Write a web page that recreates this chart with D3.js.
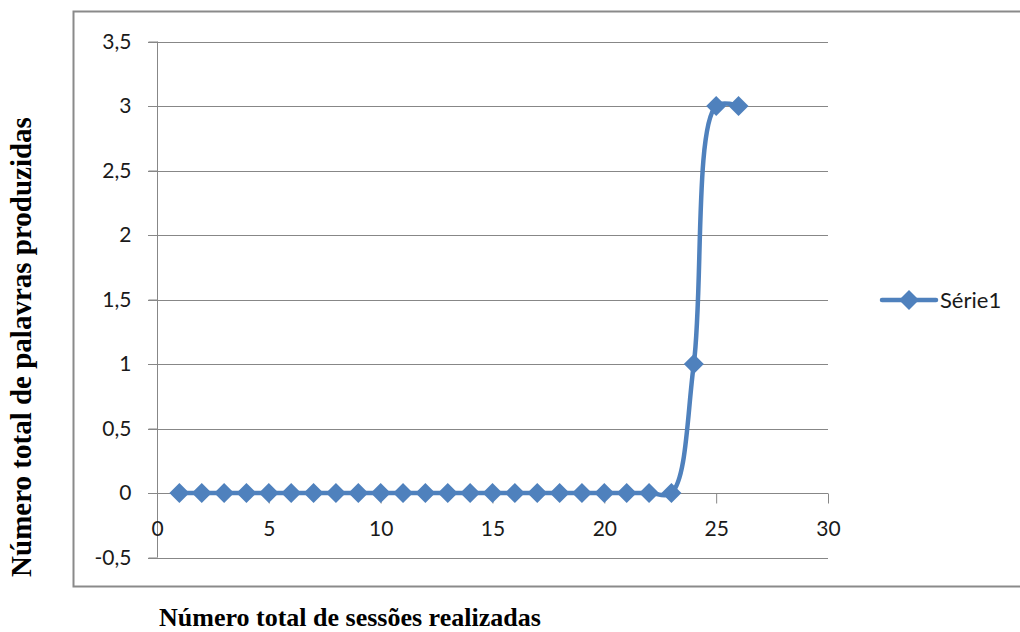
<!DOCTYPE html>
<html>
<head>
<meta charset="utf-8">
<script src="https://cdn.jsdelivr.net/npm/d3@7"></script>
<style>
  html, body { margin: 0; padding: 0; background: #fff; }
  svg { display: block; }
</style>
</head>
<body>
<svg id="chart" width="1020" height="632"></svg>
<script>
// Sessions (x) and words produced (y)
const sessions = [1, 2, 3, 4, 5, 6, 7, 8, 9, 10, 11, 12, 13, 14, 15, 16, 17, 18, 19, 20, 21, 22, 23, 24, 25, 26];
const words    = [0, 0, 0, 0, 0, 0, 0, 0, 0, 0, 0, 0, 0, 0, 0, 0, 0, 0, 0, 0, 0, 0, 0, 1, 3, 3];
const xTicks = [0, 5, 10, 15, 20, 25, 30];
const yTicks = [-0.5, 0, 0.5, 1, 1.5, 2, 2.5, 3, 3.5];
const seriesName = "Série1";
const xTitle = "Número total de sessões realizadas";
const yTitle = "Número total de palavras produzidas";

const svg = d3.select("#chart");
const blue = "#4F81BD";
const grid = "#878787";
const tickFont = "Lato, 'Open Sans', sans-serif";
const titleFont = "'Liberation Serif', 'Times New Roman', serif";

const x = d3.scaleLinear().domain([0, 30]).range([157, 828]);
const y = d3.scaleLinear().domain([-0.5, 3.5]).range([557.5, 41.5]);

// Chart frame
svg.append("rect")
  .attr("x", 73.5).attr("y", 11.5)
  .attr("width", 960).attr("height", 575)
  .attr("fill", "none").attr("stroke", "#8a8a8a").attr("stroke-width", 2);

// Horizontal gridlines
svg.append("g")
  .selectAll("line")
  .data(yTicks)
  .join("line")
  .attr("x1", 148).attr("x2", 828)
  .attr("y1", d => Math.round(y(d)) + 0.5).attr("y2", d => Math.round(y(d)) + 0.5)
  .attr("stroke", grid).attr("stroke-width", 1);

// Y axis
const yAxis = d3.axisLeft(y)
  .tickValues(yTicks)
  .tickSize(9)
  .tickPadding(17)
  .tickFormat(d => String(d).replace(".", ","));
const gy = svg.append("g").attr("transform", "translate(157.5,0)").call(yAxis);
gy.select(".domain").attr("stroke", grid).attr("d", `M0,${y(3.5)}V${y(-0.5)}`);
gy.selectAll(".tick line").attr("stroke", grid);
gy.selectAll(".tick text")
  .attr("font-family", tickFont).attr("font-size", 21).attr("fill", "#1a1a1a");

// X axis at y = 0
const xAxis = d3.axisBottom(x)
  .tickValues(xTicks)
  .tickSize(10)
  .tickPadding(18)
  .tickFormat(d3.format("d"));
const gx = svg.append("g").attr("transform", `translate(0,${Math.round(y(0)) + 0.5})`).call(xAxis);
gx.select(".domain").attr("stroke", grid).attr("d", `M${x(0)},0H${x(30)}`);
gx.selectAll(".tick line").attr("stroke", grid);
gx.selectAll(".tick text")
  .attr("font-family", tickFont).attr("font-size", 21).attr("fill", "#1a1a1a");

// Smoothed series line
const pts = sessions.map((s, i) => [s, words[i]]);
const line = d3.line()
  .x(d => x(d[0])).y(d => y(d[1]))
  .curve(d3.curveCatmullRom.alpha(0.5));
svg.append("path")
  .datum(pts)
  .attr("d", line)
  .attr("fill", "none").attr("stroke", blue)
  .attr("stroke-width", 4.5).attr("stroke-linejoin", "round");

// Diamond markers
const diamond = "M0,-10L10,0L0,10L-10,0Z";
svg.append("g")
  .selectAll("path")
  .data(pts)
  .join("path")
  .attr("transform", d => `translate(${x(d[0])},${y(d[1])})`)
  .attr("d", diamond)
  .attr("fill", blue);

// Legend
const lg = svg.append("g").attr("transform", "translate(882,300)");
lg.append("line").attr("x1", 0).attr("x2", 54).attr("y1", 0).attr("y2", 0)
  .attr("stroke", blue).attr("stroke-width", 4.5).attr("stroke-linecap", "round");
lg.append("path").attr("transform", "translate(27,0)").attr("d", diamond).attr("fill", blue);
lg.append("text").attr("x", 58).attr("y", 8)
  .attr("font-family", tickFont).attr("font-size", 22).attr("fill", "#1a1a1a")
  .text(seriesName);

// Axis titles
svg.append("text")
  .attr("x", 159).attr("y", 626)
  .attr("font-family", titleFont)
  .attr("font-weight", "bold").attr("font-size", 26).attr("fill", "#000")
  .text(xTitle);
svg.append("text")
  .attr("transform", "translate(31,347) rotate(-90)")
  .attr("text-anchor", "middle")
  .attr("font-family", titleFont)
  .attr("font-weight", "bold").attr("font-size", 29).attr("fill", "#000")
  .text(yTitle);
</script>
</body>
</html>
